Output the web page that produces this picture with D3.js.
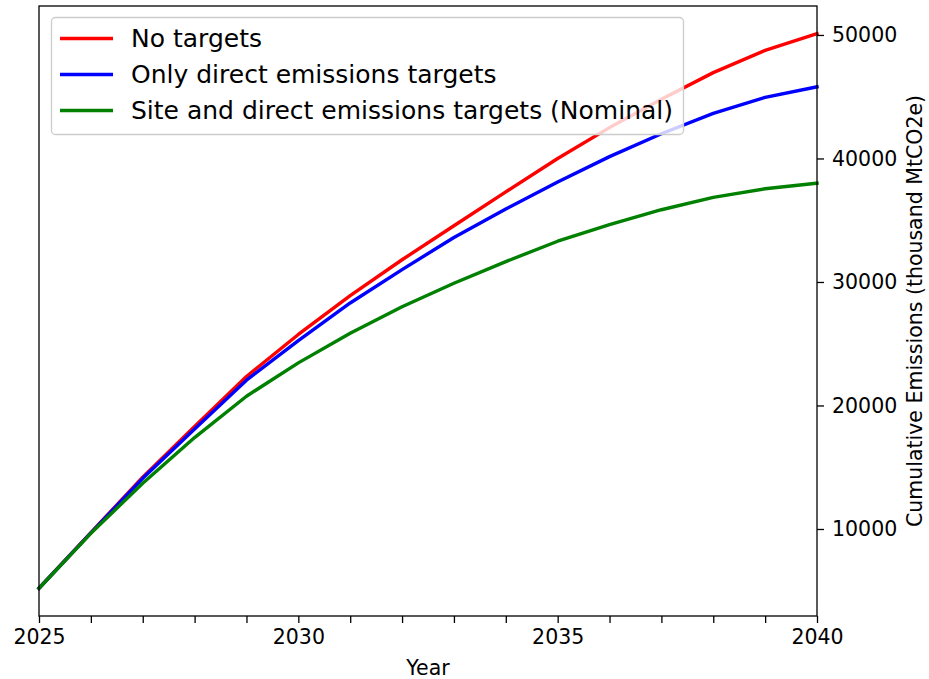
<!DOCTYPE html>
<html>
<head>
<meta charset="utf-8">
<script src="https://cdn.jsdelivr.net/npm/d3@7"></script>
<style>
  html, body { margin: 0; padding: 0; background: #fff; }
  svg { display: block; font-family: "DejaVu Sans", sans-serif; }
</style>
</head>
<body>
<svg id="chart" width="929" height="679"></svg>
<script>
const years = [2025, 2026, 2027, 2028, 2029, 2030, 2031, 2032, 2033, 2034, 2035, 2036, 2037, 2038, 2039, 2040];
const noTargets = [5200, 9700, 14200, 18300, 22350, 25750, 28900, 31800, 34550, 37300, 40000, 42500, 44800, 46950, 48750, 50100];
const directOnly = [5200, 9680, 14100, 18100, 22050, 25250, 28300, 31000, 33600, 35900, 38100, 40150, 42000, 43650, 44950, 45800];
const siteAndDirect = [5200, 9650, 13700, 17400, 20750, 23450, 25850, 28000, 29900, 31650, 33300, 34650, 35850, 36850, 37550, 38000];
const seriesNames = ["No targets", "Only direct emissions targets", "Site and direct emissions targets (Nominal)"];
const seriesColors = ["#ff0000", "#0000ff", "#008000"];
const xTickLabels = [2025, 2030, 2035, 2040];
const yTicks = [10000, 20000, 30000, 40000, 50000];

(function () {
const series = [noTargets, directOnly, siteAndDirect];

const svg = d3.select("#chart");
const pL = 39, pR = 817, pT = 6, pB = 616;

const x = d3.scaleLinear().domain([2025, 2040]).range([pL, pR]);
const allVals = series.flat();
const ymin = d3.min(allVals), ymax = d3.max(allVals);
const pad = (ymax - ymin) * 0.05;
const y = d3.scaleLinear().domain([ymin - pad, ymax + pad]).range([pB, pT]);

// lines
const line = d3.line().x((d, i) => x(years[i])).y(d => y(d));
series.forEach((s, k) => {
  svg.append("path")
    .datum(s)
    .attr("d", line)
    .attr("fill", "none")
    .attr("stroke", seriesColors[k])
    .attr("stroke-width", 3.4)
    .attr("stroke-linejoin", "round")
    .attr("stroke-linecap", "square");
});

// x axis
const xAxis = d3.axisBottom(x)
  .tickValues(years)
  .tickSize(7)
  .tickPadding(6)
  .tickFormat(d => xTickLabels.includes(d) ? String(d) : "");
const gx = svg.append("g").attr("transform", `translate(0,${pB})`).call(xAxis);
gx.select(".domain").remove();
gx.selectAll(".tick line").attr("stroke", "#000").attr("stroke-width", 1.3);
gx.selectAll(".tick text").attr("font-size", 20.5).attr("fill", "#000").attr("font-family", "DejaVu Sans");

// y axis on right
const yAxis = d3.axisRight(y).tickValues(yTicks).tickSize(7).tickPadding(8).tickFormat(d3.format("d"));
const gy = svg.append("g").attr("transform", `translate(${pR},0)`).call(yAxis);
gy.select(".domain").remove();
gy.selectAll(".tick line").attr("stroke", "#000").attr("stroke-width", 1.3);
gy.selectAll(".tick text").attr("font-size", 20.5).attr("fill", "#000").attr("font-family", "DejaVu Sans");

// frame
svg.append("rect")
  .attr("x", pL).attr("y", pT)
  .attr("width", pR - pL).attr("height", pB - pT)
  .attr("fill", "none").attr("stroke", "#000").attr("stroke-width", 1.3);

// axis labels
svg.append("text")
  .attr("x", (pL + pR) / 2).attr("y", 674.5)
  .attr("text-anchor", "middle")
  .attr("font-size", 20.5)
  .text("Year");

svg.append("text")
  .attr("transform", `translate(922,${(pT + pB) / 2}) rotate(-90)`)
  .attr("text-anchor", "middle")
  .attr("font-size", 20.5)
  .text("Cumulative Emissions (thousand MtCO2e)");

// legend
const lg = svg.append("g");
lg.append("rect")
  .attr("x", 51.5).attr("y", 17.5)
  .attr("width", 632).attr("height", 117)
  .attr("rx", 4).attr("ry", 4)
  .attr("fill", "#fff").attr("fill-opacity", 0.8)
  .attr("stroke", "#cccccc").attr("stroke-width", 1.3);
const rowY = [38.5, 74.5, 110.5];
seriesNames.forEach((name, k) => {
  lg.append("line")
    .attr("x1", 60).attr("x2", 113)
    .attr("y1", rowY[k]).attr("y2", rowY[k])
    .attr("stroke", seriesColors[k]).attr("stroke-width", 3.4);
  lg.append("text")
    .attr("x", 131).attr("y", rowY[k])
    .attr("dy", "0.35em")
    .attr("font-size", 25)
    .text(name);
});
})();
</script>
</body>
</html>
